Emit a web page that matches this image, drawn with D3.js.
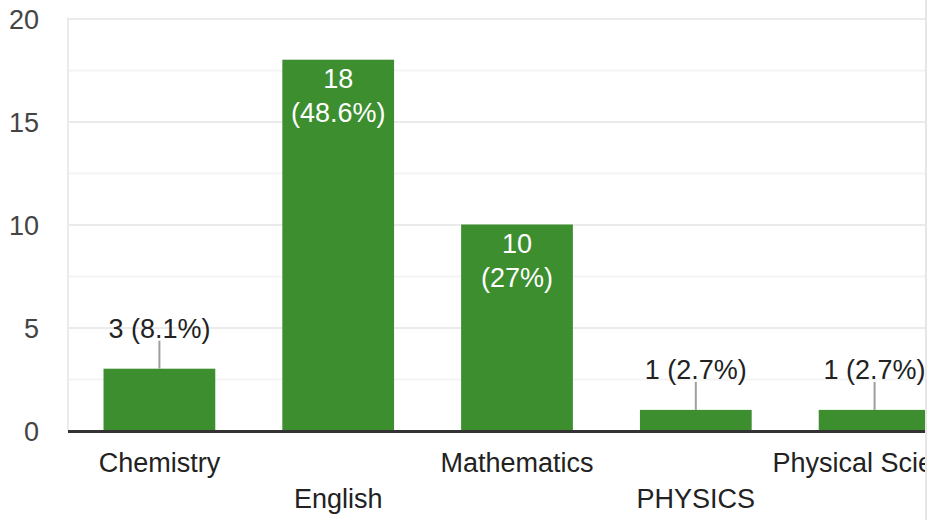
<!DOCTYPE html>
<html lang="en">
<head>
  <meta charset="utf-8">
  <title>Subject responses</title>
  <script src="https://d3js.org/d3.v7.min.js"></script>
  <style>
    html, body {
      margin: 0;
      padding: 0;
      width: 100%;
      height: 100%;
      background: #fff;
    }

    svg {
      display: block;
      font-family: "Liberation Sans", Arial, sans-serif;
    }

    .grid line {
      stroke: #ebebeb;
      stroke-width: 2px;
    }

    .minor line {
      stroke: #f4f4f4;
      stroke-width: 2px;
    }

    .bar {
      fill: #3d8e2f;
    }

    .leader {
      stroke: #9e9e9e;
      stroke-width: 2px;
    }
  </style>
</head>
<body>
  <svg width="932" height="520"></svg>
  <script>
    // Values
    const categories = ["Chemistry", "English", "Mathematics", "PHYSICS", "Physical Science"];
    const counts = [3, 18, 10, 1, 1];
    const percents = ["8.1%", "48.6%", "27%", "2.7%", "2.7%"];
    const yTicks = [0, 5, 10, 15, 20];
    const yMinorTicks = [2.5, 7.5, 12.5, 17.5];

    const svg = d3.select("svg");
    const plotLeft = 68, plotRight = 925, plotTop = 18.5, plotBottom = 430.5;

    const x = d3.scaleBand()
      .domain(categories)
      .range([70, 964])
      .paddingInner(0.375)
      .paddingOuter(0.1875);

    const y = d3.scaleLinear()
      .domain([0, 20])
      .range([plotBottom, plotTop]);

    // the chart is cut off on the right, like the screenshot
    svg.append("defs").append("clipPath")
      .attr("id", "clip")
      .append("rect")
      .attr("x", 0).attr("y", 0)
      .attr("width", plotRight).attr("height", 520);

    const g = svg.append("g").attr("clip-path", "url(#clip)");

    // minor gridlines
    g.append("g")
      .attr("class", "minor")
      .attr("transform", `translate(${plotLeft},0)`)
      .call(d3.axisLeft(y).tickValues(yMinorTicks).tickSize(-(plotRight - plotLeft)).tickFormat(""))
      .call(a => a.select(".domain").remove());

    // major gridlines
    g.append("g")
      .attr("class", "grid")
      .attr("transform", `translate(${plotLeft},0)`)
      .call(d3.axisLeft(y).tickValues(yTicks.slice(1)).tickSize(-(plotRight - plotLeft)).tickFormat(""))
      .call(a => a.select(".domain").remove());

    g.append("line")
      .attr("x1", plotLeft).attr("x2", plotLeft)
      .attr("y1", plotTop - 1).attr("y2", plotBottom)
      .attr("stroke", "#ebebeb")
      .attr("stroke-width", 2);

    // y tick labels
    svg.append("g")
      .attr("transform", "translate(39,0)")
      .call(d3.axisLeft(y).tickValues(yTicks).tickSize(0).tickPadding(0))
      .call(a => a.select(".domain").remove())
      .call(a => a.selectAll("text")
        .attr("fill", "#444")
        .attr("font-size", 27)
        .attr("font-family", "Liberation Sans, Arial, sans-serif")
        .attr("dy", "0.36em"));

    // bars
    g.selectAll(".bar")
      .data(counts)
      .enter()
      .append("rect")
      .attr("class", "bar")
      .attr("x", (d, i) => x(categories[i]))
      .attr("y", d => y(d))
      .attr("width", x.bandwidth())
      .attr("height", d => y(0) - y(d));

    // baseline
    g.append("line")
      .attr("x1", plotLeft).attr("x2", plotRight)
      .attr("y1", plotBottom + 1).attr("y2", plotBottom + 1)
      .attr("stroke", "#333")
      .attr("stroke-width", 3);

    // value labels
    counts.forEach((d, i) => {
      const cx = x(categories[i]) + x.bandwidth() / 2;
      const barTop = y(d);
      const inside = y(0) - barTop > 80;
      if (inside) {
        const t = g.append("text")
          .attr("text-anchor", "middle")
          .attr("fill", "#fff")
          .attr("font-size", 27);
        t.append("tspan").attr("x", cx).attr("y", barTop + 28).text(d);
        t.append("tspan").attr("x", cx).attr("y", barTop + 62).text(`(${percents[i]})`);
      } else {
        g.append("line")
          .attr("class", "leader")
          .attr("x1", cx).attr("x2", cx)
          .attr("y1", barTop).attr("y2", barTop - 28);
        g.append("text")
          .attr("x", cx)
          .attr("y", barTop - 31)
          .attr("text-anchor", "middle")
          .attr("fill", "#222")
          .attr("font-size", 27)
          .text(`${d} (${percents[i]})`);
      }
    });

    // category labels, staggered on two rows
    g.selectAll(".cat")
      .data(categories)
      .enter()
      .append("text")
      .attr("class", "cat")
      .attr("x", d => x(d) + x.bandwidth() / 2)
      .attr("y", (d, i) => i % 2 === 0 ? 472 : 508)
      .attr("text-anchor", "middle")
      .attr("fill", "#222")
      .attr("font-size", 27)
      .text(d => d);

    // right edge
    svg.append("line")
      .attr("x1", plotRight + 1).attr("x2", plotRight + 1)
      .attr("y1", 0).attr("y2", 520)
      .attr("stroke", "#e6e6e6")
      .attr("stroke-width", 2);
  </script>
</body>
</html>
